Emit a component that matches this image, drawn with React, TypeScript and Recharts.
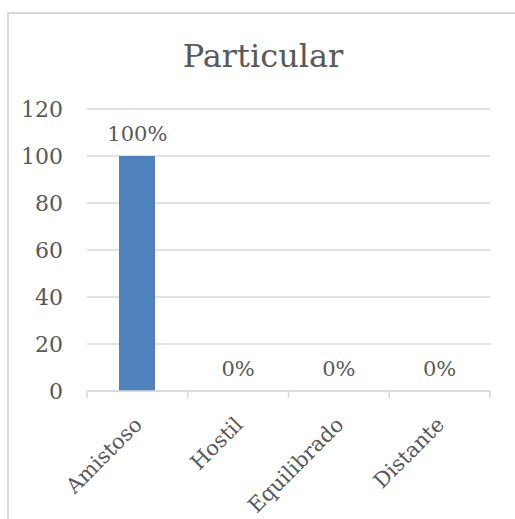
import React from "react";
import { ComposedChart, Bar, Line, XAxis, YAxis, CartesianGrid, LabelList } from "recharts";

const categories = ["Amistoso", "Hostil", "Equilibrado", "Distante"];
const values = [100, 0, 0, 0];
const valueLabels = ["100%", "0%", "0%", "0%"];
const yTicks = [0, 20, 40, 60, 80, 100, 120];

const data = categories.map((name, i) => ({ name, value: values[i], label: valueLabels[i] }));

const W = 515;
const H = 519;
const MARGIN = { top: 109, right: 25, left: 0, bottom: 28 };
const Y_AXIS_W = 87;
const BAND = (W - MARGIN.left - MARGIN.right - Y_AXIS_W) / categories.length;
const FONT = "'DejaVu Serif', serif";
const TEXT = "#595959";
const GRID = "#d9d9d9";

function XTick(props: any) {
  const { x, y, payload, index } = props;
  const tx = x + 6;
  const ty = y + 35;
  return (
    <g>
      <line x1={x - BAND / 2} y1={y} x2={x - BAND / 2} y2={y + 7} stroke={GRID} strokeWidth={1.5} />
      {index === categories.length - 1 && (
        <line x1={x + BAND / 2} y1={y} x2={x + BAND / 2} y2={y + 7} stroke={GRID} strokeWidth={1.5} />
      )}
      <text
        x={tx}
        y={ty}
        transform={`rotate(-45, ${tx}, ${ty})`}
        textAnchor="end"
        fill={TEXT}
        fontFamily={FONT}
        fontSize={21}
      >
        {payload.value}
      </text>
    </g>
  );
}

export default function App() {
  return (
    <div style={{ position: "absolute", left: 0, top: 0, width: W, height: H, background: "#fff", overflow: "hidden" }}>
      <div
        style={{
          position: "absolute",
          left: 7,
          top: 12,
          width: 540,
          height: 540,
          border: `2px solid ${GRID}`,
          boxSizing: "border-box",
        }}
      />
      <div
        style={{
          position: "absolute",
          left: 113,
          width: 300,
          top: 36,
          textAlign: "center",
          fontFamily: FONT,
          fontSize: 32,
          lineHeight: "40px",
          color: TEXT,
        }}
      >
        Particular
      </div>
      <div style={{ position: "absolute", left: 0, top: 0 }}>
        <ComposedChart width={W} height={H} data={data} margin={MARGIN}>
          <CartesianGrid vertical={false} stroke={GRID} strokeWidth={1.5} />
          <XAxis
            dataKey="name"
            axisLine={{ stroke: GRID, strokeWidth: 1.5 }}
            tickLine={false}
            tickSize={0}
            tickMargin={0}
            height={100}
            interval={0}
            tick={<XTick />}
          />
          <YAxis
            width={Y_AXIS_W}
            domain={[0, 120]}
            ticks={yTicks}
            axisLine={false}
            tickLine={false}
            tickSize={0}
            tickMargin={24}
            tick={{ fill: TEXT, fontFamily: FONT, fontSize: 22 }}
          />
          <Bar dataKey="value" fill="#4f81bd" barSize={36} isAnimationActive={false} />
          {/* invisible line carrying the percentage labels, so zero bars get one too */}
          <Line
            dataKey="value"
            stroke="none"
            dot={false}
            activeDot={false}
            legendType="none"
            isAnimationActive={false}
          >
            <LabelList
              dataKey="label"
              position="top"
              offset={15}
              fill={TEXT}
              fontFamily={FONT}
              fontSize={21}
            />
          </Line>
        </ComposedChart>
      </div>
    </div>
  );
}
